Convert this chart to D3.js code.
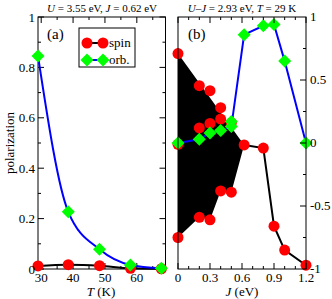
<!DOCTYPE html>
<html>
<head>
<meta charset="utf-8">
<script src="https://cdn.jsdelivr.net/npm/d3@7"></script>
<style>
  body { margin: 0; background: #fff; }
</style>
</head>
<body>
<svg width="332" height="299" font-family="'Liberation Serif', 'Times New Roman', 'DejaVu Serif', serif"></svg>
<script>
// panel (a): polarization vs T
const tempA = [29, 38.5, 48.3, 58, 67.7];
const spinA = [0.012, 0.017, 0.013, 0.003, 0.001];
const orbA = [0.845, 0.227, 0.078, 0.016, 0.003];

// panel (b): polarization vs J
const spinJ = [0, 0, 0, 0.2, 0.2, 0.2, 0.3, 0.3, 0.3, 0.4, 0.4, 0.4, 0.5, 0.5, 0.62, 0.8, 0.9, 1.0, 1.2];
const spinB = [0.71, -0.01, -0.75, 0.455, 0.12, -0.59, 0.415, 0.155, -0.61, 0.28, 0.19, -0.38, 0.16, -0.39, -0.015, -0.04, -0.66, -0.85, -0.97];
// spin branch drawn as a line (J >= 0.62)
const spinLineJ = [0.62, 0.8, 0.9, 1.0, 1.2];
const spinLineB = [-0.015, -0.04, -0.66, -0.85, -0.97];
// oscillating region (filled black)
const bandJ = [0, 0.62, 0.5, 0.4, 0.3, 0.2, 0];
const bandB = [0.71, -0.015, -0.39, -0.38, -0.61, -0.59, -0.75];

const orbJ = [0, 0.2, 0.3, 0.4, 0.5, 0.5, 0.62, 0.8, 0.9, 1.0, 1.2];
const orbB = [0.0, 0.03, 0.08, 0.10, 0.13, 0.17, 0.86, 0.93, 0.94, 0.65, 0.0];
const orbLineIdx = [0, 1, 2, 3, 4, 6, 7, 8, 9, 10];

const ticksAy = [0, 0.2, 0.4, 0.6, 0.8, 1];
const ticksAyLab = ['0', '0.2', '0.4', '0.6', '0.8', '1'];
const ticksAx = [30, 40, 50, 60];
const ticksBx = [0, 0.3, 0.6, 0.9, 1.2];
const ticksBy = [1, 0.5, 0, -0.5, -1];
const ticksByLab = ['1', '0.5', '0', '-0.5', '-1'];

const svg = d3.select('svg');
const plotTop = 17, plotBottom = 269;

const xA = d3.scaleLinear().domain([29, 69]).range([38, 165.5]);
const yA = d3.scaleLinear().domain([0, 1]).range([plotBottom, plotTop]);
const xB = d3.scaleLinear().domain([0, 1.2]).range([178, 306]);
const yB = d3.scaleLinear().domain([-1, 1]).range([plotBottom, plotTop]);

const red = '#ff0000', green = '#00ff00', blue = '#0000ff';

function diamond(g, x, y, r) {
  g.append('path')
    .attr('d', `M${x},${y - r}L${x + r},${y}L${x},${y + r}L${x - r},${y}Z`)
    .attr('fill', green);
}

// inward ticks on the frame
function frame(x, y, xMajor, xMinor, yMajor, yMinor, sides) {
  const g = svg.append('g');
  const [x0, x1] = x.range();
  const [y0, y1] = y.range();
  const tk = (ax, ay, bx, by) => g.append('line')
    .attr('x1', ax).attr('y1', ay).attr('x2', bx).attr('y2', by)
    .attr('stroke', '#000').attr('stroke-width', 1);
  xMajor.forEach(v => { tk(x(v), y0, x(v), y0 - 6); tk(x(v), y1, x(v), y1 + 6); });
  xMinor.forEach(v => { tk(x(v), y0, x(v), y0 - 3); tk(x(v), y1, x(v), y1 + 3); });
  yMajor.forEach(v => {
    if (sides.left) tk(x0, y(v), x0 + 6, y(v));
    if (sides.right) tk(x1, y(v), x1 - 6, y(v));
  });
  yMinor.forEach(v => {
    if (sides.left) tk(x0, y(v), x0 + 3, y(v));
    if (sides.right) tk(x1, y(v), x1 - 3, y(v));
  });
  g.append('rect')
    .attr('x', x0).attr('y', y1)
    .attr('width', x1 - x0).attr('height', y0 - y1)
    .attr('fill', 'none').attr('stroke', '#000').attr('stroke-width', 1);
}

// ---------- panel (a)
frame(xA, yA, ticksAx, [35, 45, 55, 65], ticksAy, [0.1, 0.3, 0.5, 0.7, 0.9], {left: true, right: true});

const lineA = d3.line().curve(d3.curveMonotoneX);
svg.append('path')
  .attr('d', lineA(tempA.map((t, i) => [xA(t), yA(spinA[i])])))
  .attr('fill', 'none').attr('stroke', '#000').attr('stroke-width', 2);
svg.append('g').selectAll('circle')
  .data(tempA).enter().append('circle')
  .attr('cx', d => xA(d)).attr('cy', (d, i) => yA(spinA[i]))
  .attr('r', 5.5).attr('fill', red);
svg.append('path')
  .attr('d', lineA(tempA.map((t, i) => [xA(t), yA(orbA[i])])))
  .attr('fill', 'none').attr('stroke', blue).attr('stroke-width', 2);
const gOrbA = svg.append('g');
tempA.forEach((t, i) => diamond(gOrbA, xA(t), yA(orbA[i]), 6.5));

// ---------- panel (b)
svg.append('path')
  .attr('d', d3.line()(bandJ.map((j, i) => [xB(j), yB(bandB[i])])) + 'Z')
  .attr('fill', '#000');
svg.append('path')
  .attr('d', d3.line()(spinLineJ.map((j, i) => [xB(j), yB(spinLineB[i])])))
  .attr('fill', 'none').attr('stroke', '#000').attr('stroke-width', 2);
svg.append('g').selectAll('circle')
  .data(spinJ).enter().append('circle')
  .attr('cx', d => xB(d)).attr('cy', (d, i) => yB(spinB[i]))
  .attr('r', 5.5).attr('fill', red);
svg.append('path')
  .attr('d', d3.line()(orbLineIdx.map(i => [xB(orbJ[i]), yB(orbB[i])])))
  .attr('fill', 'none').attr('stroke', blue).attr('stroke-width', 2);
const gOrbB = svg.append('g');
orbJ.forEach((j, i) => diamond(gOrbB, xB(j), yB(orbB[i]), 6.5));

frame(xB, yB, ticksBx, [0.1, 0.2, 0.4, 0.5, 0.7, 0.8, 1.0, 1.1], [0.5, 0, -0.5], [0.75, 0.25, -0.25, -0.75], {left: false, right: true});

// ---------- tick labels
const fs = 13;
svg.append('g').selectAll('text').data(ticksAy).enter().append('text')
  .attr('x', 35).attr('y', d => yA(d) + 4.5)
  .attr('text-anchor', 'end').attr('font-size', fs)
  .text((d, i) => ticksAyLab[i]);
svg.append('g').selectAll('text').data(ticksAx).enter().append('text')
  .attr('x', d => xA(d)).attr('y', 281.5)
  .attr('text-anchor', 'middle').attr('font-size', fs)
  .text(d => d);
svg.append('g').selectAll('text').data(ticksBx).enter().append('text')
  .attr('x', d => xB(d)).attr('y', 281.5)
  .attr('text-anchor', 'middle').attr('font-size', fs)
  .text(d => d);
svg.append('g').selectAll('text').data(ticksBy).enter().append('text')
  .attr('x', 310).attr('y', d => yB(d) + 4)
  .attr('text-anchor', 'start').attr('font-size', fs)
  .text((d, i) => ticksByLab[i]);

// ---------- axis titles
svg.append('text')
  .attr('transform', `translate(14,${(plotTop + plotBottom) / 2}) rotate(-90)`)
  .attr('text-anchor', 'middle').attr('font-size', 13)
  .text('polarization');

const tA = svg.append('text').attr('x', 101).attr('y', 296)
  .attr('text-anchor', 'middle').attr('font-size', 13);
tA.append('tspan').attr('font-style', 'italic').text('T');
tA.append('tspan').text(' (K)');

const tB = svg.append('text').attr('x', 242).attr('y', 296)
  .attr('text-anchor', 'middle').attr('font-size', 13);
tB.append('tspan').attr('font-style', 'italic').text('J');
tB.append('tspan').text(' (eV)');

// titles
const hA = svg.append('text').attr('x', 102).attr('y', 12)
  .attr('text-anchor', 'middle').attr('font-size', 11);
hA.append('tspan').attr('font-style', 'italic').text('U');
hA.append('tspan').text(' = 3.55 eV, ');
hA.append('tspan').attr('font-style', 'italic').text('J');
hA.append('tspan').text(' = 0.62 eV');

const hB = svg.append('text').attr('x', 242).attr('y', 12)
  .attr('text-anchor', 'middle').attr('font-size', 11);
hB.append('tspan').attr('font-style', 'italic').text('U');
hB.append('tspan').text('\u2013');
hB.append('tspan').attr('font-style', 'italic').text('J');
hB.append('tspan').text(' = 2.93 eV, ');
hB.append('tspan').attr('font-style', 'italic').text('T');
hB.append('tspan').text(' = 29 K');

// panel labels
svg.append('text').attr('x', 47).attr('y', 39).attr('font-size', 15).text('(a)');
svg.append('text').attr('x', 188).attr('y', 39).attr('font-size', 15).text('(b)');

// ---------- legend
const leg = svg.append('g');
leg.append('rect').attr('x', 79).attr('y', 28).attr('width', 56).attr('height', 39)
  .attr('fill', '#fff').attr('stroke', '#000').attr('stroke-width', 1);
leg.append('line').attr('x1', 87).attr('x2', 103).attr('y1', 43).attr('y2', 43)
  .attr('stroke', '#000').attr('stroke-width', 2);
[87, 103].forEach(x => leg.append('circle').attr('cx', x).attr('cy', 43).attr('r', 5.5).attr('fill', red));
leg.append('line').attr('x1', 87).attr('x2', 103).attr('y1', 60).attr('y2', 60)
  .attr('stroke', blue).attr('stroke-width', 2);
[87, 103].forEach(x => diamond(leg, x, 60, 6.5));
leg.append('text').attr('x', 109).attr('y', 47).attr('font-size', 13).text('spin');
leg.append('text').attr('x', 109).attr('y', 64).attr('font-size', 13).text('orb.');
</script>
</body>
</html>
